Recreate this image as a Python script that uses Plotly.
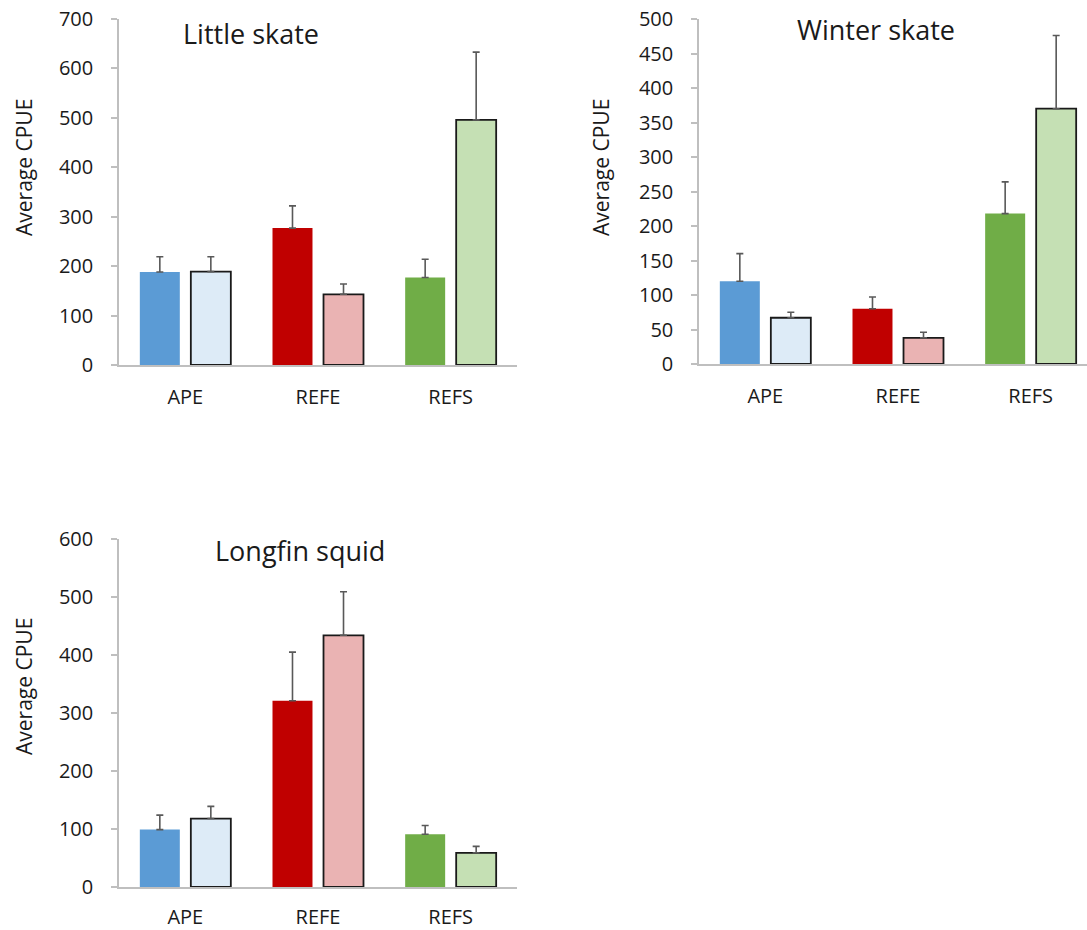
import plotly.graph_objects as go

categories = ["APE", "REFE", "REFS"]

# Little skate
ls_dark = [188, 277, 177]
ls_dark_err = [31, 45, 37]
ls_light = [189, 143, 496]
ls_light_err = [30, 21, 137]

# Winter skate
ws_dark = [120, 80, 218]
ws_dark_err = [40, 17, 46]
ws_light = [67, 38, 370]
ws_light_err = [8, 8, 106]

# Longfin squid
lf_dark = [99, 321, 91]
lf_dark_err = [25, 84, 15]
lf_light = [118, 434, 59]
lf_light_err = [21, 75, 11]

titles = ["Little skate", "Winter skate", "Longfin squid"]
y_ranges = [[0, 700], [0, 500], [0, 600]]
y_dticks = [100, 50, 100]

dark_colors = ["#5B9BD5", "#C00000", "#70AD47"]
light_colors = ["#DDEBF7", "#EAB3B3", "#C5E0B4"]

FONT = "Open Sans"
TXT = "#1a1a1a"
ERRC = "#595959"

fig = go.Figure()

panels = [
    (ls_dark, ls_dark_err, ls_light, ls_light_err),
    (ws_dark, ws_dark_err, ws_light, ws_light_err),
    (lf_dark, lf_dark_err, lf_light, lf_light_err),
]

W, H = 1087, 930
# plot areas in pixels: (x0, x1, ytop, ybottom), x-range end
areas = [(119, 517, 19, 365), (699, 1087, 19, 364), (119, 517, 539, 887)]
x_range_ends = [2.5, 2.5 - (1097 - 1087) / 132.7, 2.5]
x_standoffs = [13, 13, 11]

for i, (d, de, l, le) in enumerate(panels):
    xa = "x" if i == 0 else f"x{i+1}"
    ya = "y" if i == 0 else f"y{i+1}"
    fig.add_trace(go.Bar(
        x=categories, y=d, xaxis=xa, yaxis=ya,
        marker=dict(color=dark_colors, line=dict(width=0)),
        error_y=dict(type="data", array=de, symmetric=False, arrayminus=[0, 0, 0],
                     color=ERRC, thickness=1.6, width=3.5),
        showlegend=False, hoverinfo="skip",
    ))
    fig.add_trace(go.Bar(
        x=categories, y=l, xaxis=xa, yaxis=ya,
        marker=dict(color=light_colors, line=dict(width=1.8, color="#1a1a1a")),
        error_y=dict(type="data", array=le, symmetric=False, arrayminus=[0, 0, 0],
                     color=ERRC, thickness=1.6, width=3.5),
        showlegend=False, hoverinfo="skip",
    ))

layout = dict(
    width=W, height=H,
    margin=dict(l=0, r=0, t=0, b=0, autoexpand=False),
    paper_bgcolor="white", plot_bgcolor="white",
    barmode="group", bargap=0.231, bargroupgap=0.216,
    font=dict(family=FONT, color=TXT),
)

for i, (x0, x1, yt, yb) in enumerate(areas):
    xk = "xaxis" if i == 0 else f"xaxis{i+1}"
    yk = "yaxis" if i == 0 else f"yaxis{i+1}"
    ya_ref = "y" if i == 0 else f"y{i+1}"
    xa_ref = "x" if i == 0 else f"x{i+1}"
    layout[xk] = dict(
        domain=[x0 / W, x1 / W], anchor=ya_ref, automargin=False,
        range=[-0.5, x_range_ends[i]], showline=True, linecolor="#BFBFBF", linewidth=1.5,
        showgrid=False, zeroline=False, ticks="",
        tickfont=dict(size=20, family=FONT, color=TXT),
        ticklabelstandoff=x_standoffs[i], fixedrange=True,
    )
    layout[yk] = dict(
        domain=[1 - yb / H, 1 - yt / H], anchor=xa_ref, automargin=False,
        range=y_ranges[i], dtick=y_dticks[i], tick0=0,
        showline=True, linecolor="#BFBFBF", linewidth=1.5,
        ticks="outside", ticklen=6, tickcolor="#BFBFBF", tickwidth=1.5,
        showgrid=False, zeroline=False,
        tickfont=dict(size=20, family=FONT, color=TXT),
        ticklabelstandoff=14, fixedrange=True,
    )

fig.update_layout(**layout)

# Titles
title_pos = [(251, 33), (876, 30), (300, 550)]
for t, (cx, cy) in zip(titles, title_pos):
    fig.add_annotation(text=t, x=cx / W, y=1 - cy / H, xref="paper", yref="paper",
                       showarrow=False, xanchor="center", yanchor="middle",
                       font=dict(size=27, family=FONT, color=TXT))

# Y axis titles
ytitle_pos = [(24, 168), (601, 168), (24, 687)]
for cx, cy in ytitle_pos:
    fig.add_annotation(text="Average CPUE", x=cx / W, y=1 - cy / H, xref="paper", yref="paper",
                       showarrow=False, xanchor="center", yanchor="middle", textangle=-90,
                       font=dict(size=21, family=FONT, color=TXT))

fig.write_html(
    "out.html",
    config={"displayModeBar": False},
    post_script="document.body.style.margin='0';document.body.style.overflow='hidden';",
)
